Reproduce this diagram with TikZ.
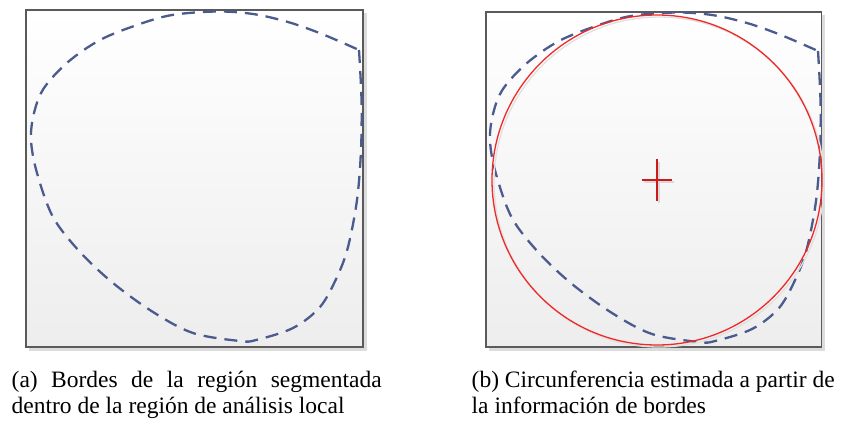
\documentclass[tikz,border=0pt]{standalone}
\usepackage{fontspec}
\setmainfont{Liberation Serif}
\usepackage{graphicx}
\definecolor{edgeblue}{HTML}{4B5B8E}
\definecolor{boxline}{HTML}{5A5A5A}
\definecolor{shadowgray}{HTML}{DCDCDC}
\definecolor{fitred}{HTML}{F02828}
\definecolor{crossred}{HTML}{CC1A1A}
\tikzset{
  panelbox/.style={draw=boxline, line width=1.3pt, top color=white, bottom color=black!7},
  panelshadow/.style={fill=shadowgray, draw=none},
  edgecurve/.style={draw=edgeblue, line width=2.3pt, dash pattern=on 13pt off 8pt, line join=round},
  fitcircle/.style={draw=fitred, line width=1.3pt},
  fitshadow/.style={draw=black!12, line width=1.3pt},
  crossmark/.style={draw=crossred, line width=1.3pt},
  captext/.style={inner sep=0pt, anchor=base west, font=\fontsize{23.5}{26}\selectfont}
}
\newcommand{\edgeshape}{%
  plot[smooth, tension=0.55] coordinates{(359,50) (361.5,100) (361,150) (357,200) (348,247) (337,277) (320,307) (293,328) (256,340) (240,341) (193,333) (153,312) (113,283) (80,252) (53,217) (37,173) (31,140) (34,113) (44,88) (68,62) (100,40) (137,25) (172,15) (217,11.5) (253,14) (288,22) (322,34) (359,50)}}
\begin{document}
\begin{tikzpicture}[x=1pt, y=-1pt]
\useasboundingbox (0,0) rectangle (842,421);
% left panel
\fill[panelshadow] (29,13) rectangle (367,351);
\path[panelbox] (26,10) rectangle (363,347);
\draw[edgecurve] \edgeshape;
% right panel
\fill[panelshadow] (489,15) rectangle (825,351);
\path[panelbox] (486,12) rectangle (821.5,347);
\begin{scope}[shift={(459,1)}]
\draw[edgecurve] \edgeshape;
\end{scope}
\draw[fitshadow] (659,182) circle (165);
\draw[fitcircle] (657,180) circle (165);
\draw[black!15, line width=1.3pt] (644,182) -- (674,182) (659,162) -- (659,203);
\draw[crossmark] (642,180) -- (672,180) (657,159) -- (657,201);
% captions
\node[captext] (capa1) at (11.5,387) {\makebox[370pt][s]{(a) Bordes de la región segmentada}};
\node[captext] (capa2) at (11.5,413) {dentro de la región de análisis local};
\node[captext] (capb1) at (471.5,387) {\makebox[363pt][s]{(b) Circunferencia estimada a partir de}};
\node[captext] (capb2) at (471.5,413) {la información de bordes};
\end{tikzpicture}
\end{document}
